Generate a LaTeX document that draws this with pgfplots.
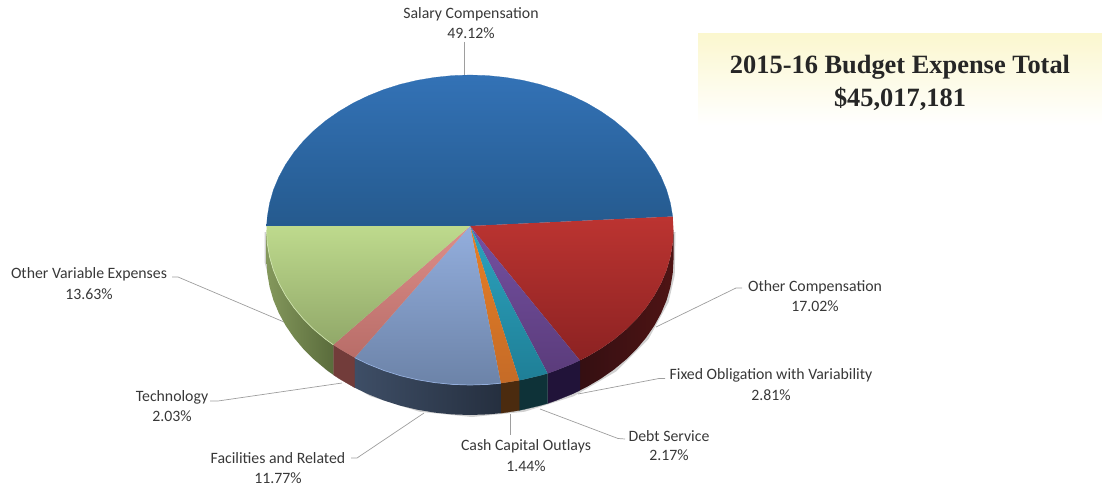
\documentclass[border=0pt]{standalone}
\usepackage{pgfplots}
\pgfplotsset{compat=1.18}
\usepackage{fontspec}
\setmainfont{Carlito}
\newfontfamily\titlefont{Liberation Serif}
\tikzset{lab/.style={font=\fontsize{15.8}{18}\selectfont,text=black!78,inner sep=0pt,anchor=center,yshift=-1.2pt},
  ttl/.style={font=\titlefont\bfseries\fontsize{26.4}{30}\selectfont,text=black!85,inner sep=0pt,yshift=-2.5pt},
  lead/.style={color=black!38,line width=0.7pt}}
\definecolor{sPur}{HTML}{211339}
\definecolor{sTea}{HTML}{0E3238}
\definecolor{sOra}{HTML}{4B2B0F}
\definecolor{sBluL}{HTML}{3E4E66}
\definecolor{sBluR}{HTML}{252F3F}
\definecolor{sPin}{HTML}{723C3A}
\definecolor{sGreL}{HTML}{84985C}
\definecolor{sGreR}{HTML}{5A6C3C}
\definecolor{sRedL}{HTML}{350F12}
\definecolor{sRedR}{HTML}{4E1414}
\definecolor{nT}{HTML}{3372B6}
\definecolor{nM}{HTML}{2B69AC}
\definecolor{nB}{HTML}{255A8E}
\definecolor{rT}{HTML}{BC3431}
\definecolor{rB}{HTML}{8C2222}
\definecolor{pT}{HTML}{7450A2}
\definecolor{pB}{HTML}{5B3C7B}
\definecolor{tT}{HTML}{2CA3BE}
\definecolor{tB}{HTML}{1F7F97}
\definecolor{oT}{HTML}{E87F25}
\definecolor{oB}{HTML}{C56B27}
\definecolor{bT}{HTML}{93AEDD}
\definecolor{bB}{HTML}{6C83A8}
\definecolor{kT}{HTML}{DD8E8A}
\definecolor{kB}{HTML}{B86D68}
\definecolor{gT}{HTML}{BEDA8D}
\definecolor{gB}{HTML}{91A869}
\definecolor{bandT}{HTML}{FBF7CF}
\begin{document}
\begin{tikzpicture}[x=1pt,y=1pt]
\path[use as bounding box] (0,0) rectangle (1102,489);
\begin{axis}[at={(0,0)},anchor=south west,width=1102pt,height=489pt,scale only axis,
  xmin=0,xmax=1102,ymin=0,ymax=489,y dir=reverse,hide axis,clip=false,
  every axis plot post/.append style={mark=none}]
% title band
\addplot[draw=none,top color=bandT,bottom color=white] coordinates {(698,34)(1102,34)(1102,125)(698,125)(698,34)};
% leader lines
\addplot[lead] coordinates {(464.3,42)(464.3,76)};
\addplot[lead] coordinates {(742,288)(736,288)(656,327)};
\addplot[lead] coordinates {(665,378.5)(659,378.5)(578,394)};
\addplot[lead] coordinates {(625,439)(618,438.5)(540,409)};
\addplot[lead] coordinates {(510.7,414)(510.7,435)};
\addplot[lead] coordinates {(351,458)(357,458)(424,413)};
\addplot[lead] coordinates {(210,401)(218,401)(342,383)};
\addplot[lead] coordinates {(172,277)(178,277)(284,322)};
% soft shadow under the pie
\addplot[draw=none,fill=black,fill opacity=0.18] coordinates {(675.5,232)(674.7,275.5)(668.6,302.1)(648.2,339.5)(615.9,371.6)(573.8,396.2)(524.7,411.7)(472,417)(419.3,411.7)(370.2,396.2)(328.1,371.6)(295.8,339.5)(275.4,302.1)(264.5,262)(264.5,232)};
% side walls
\addplot[draw=none,left color=sRedL,right color=sRedR] coordinates {(673.5,230)(672.7,243.5)(670.4,256.9)(666.6,270.1)(661.2,283)(654.4,295.5)(646.2,307.5)(636.7,318.9)(625.9,329.6)(613.9,339.6)(600.8,348.7)(586.7,357)(579.9,360.4)(579.9,390.4)(586.7,387)(600.8,378.7)(613.9,369.6)(625.9,359.6)(636.7,348.9)(646.2,337.5)(654.4,325.5)(661.2,313)(666.6,300.1)(670.4,286.9)(672.7,273.5)(673.5,260)};
\addplot[fill=sPur,draw=sPur,line width=0.2pt] coordinates {(579.9,360.4)(571.8,364.2)(556,370.5)(547.6,373.5)(547.6,403.5)(556,400.5)(571.8,394.2)(579.9,390.4)(579.9,360.4)};
\addplot[fill=sTea,draw=sTea,line width=0.2pt] coordinates {(547.6,373.5)(539.6,375.7)(522.7,379.7)(519.2,380.4)(519.2,410.4)(522.7,409.7)(539.6,405.7)(547.6,403.5)(547.6,373.5)};
\addplot[fill=sOra,draw=sOra,line width=0.2pt] coordinates {(519.2,380.4)(505.3,382.6)(500.8,383.2)(500.8,413.2)(505.3,412.6)(519.2,410.4)(519.2,380.4)};
\addplot[draw=none,left color=sBluL,right color=sBluR] coordinates {(500.8,383.2)(487.7,384.4)(470,385)(452.3,384.4)(434.7,382.6)(417.3,379.7)(400.4,375.7)(384,370.5)(368.2,364.2)(354.7,357.7)(354.7,387.7)(368.2,394.2)(384,400.5)(400.4,405.7)(417.3,409.7)(434.7,412.6)(452.3,414.4)(470,415)(487.7,414.4)(500.8,413.2)};
\addplot[fill=sPin,draw=sPin,line width=0.2pt] coordinates {(354.7,357.7)(339.2,348.7)(333.3,344.8)(333.3,374.8)(339.2,378.7)(354.7,387.7)(354.7,357.7)};
\addplot[draw=none,left color=sGreL,right color=sGreR] coordinates {(333.3,344.8)(326.1,339.6)(314.1,329.6)(303.3,318.9)(293.8,307.5)(285.6,295.5)(278.8,283)(273.4,270.1)(269.6,256.9)(267.3,243.5)(266.5,230)(266.5,260)(267.3,273.5)(269.6,286.9)(273.4,300.1)(278.8,313)(285.6,325.5)(293.8,337.5)(303.3,348.9)(314.1,359.6)(326.1,369.6)(333.3,374.8)};
% top faces
\addplot[draw=nM,line width=0.2pt,top color=nT,middle color=nM,bottom color=nB] coordinates {(470,226)(266.6,226)(267.3,216.5)(269.6,203.1)(273.4,189.9)(278.8,177)(285.6,164.5)(293.8,152.5)(303.3,141.1)(314.1,130.4)(326.1,120.4)(339.2,111.3)(353.3,103)(368.2,95.8)(384,89.5)(400.4,84.3)(417.3,80.3)(434.7,77.4)(452.3,75.6)(470,75)(487.7,75.6)(505.3,77.4)(522.7,80.3)(539.6,84.3)(556,89.5)(571.8,95.8)(586.7,103)(600.8,111.3)(613.9,120.4)(625.9,130.4)(636.7,141.1)(646.2,152.5)(654.4,164.5)(661.2,177)(666.6,189.9)(670.4,203.1)(672.7,216.5)(470,226)};
\addplot[draw=none,top color=rT,bottom color=rB] coordinates {(470,226)(672.7,216.5)(673.5,230)(672.7,243.5)(670.4,256.9)(666.6,270.1)(661.2,283)(654.4,295.5)(646.2,307.5)(636.7,318.9)(625.9,329.6)(613.9,339.6)(600.8,348.7)(586.7,357)(579.9,360.4)(470,226)};
\addplot[draw=none,top color=pT,bottom color=pB] coordinates {(470,226)(579.9,360.4)(571.8,364.2)(556,370.5)(547.6,373.5)(470,226)};
\addplot[draw=none,top color=tT,bottom color=tB] coordinates {(470,226)(547.6,373.5)(539.6,375.7)(522.7,379.7)(519.2,380.4)(470,226)};
\addplot[draw=none,top color=oT,bottom color=oB] coordinates {(470,226)(519.2,380.4)(505.3,382.6)(500.8,383.2)(470,226)};
\addplot[draw=none,top color=bT,bottom color=bB] coordinates {(470,226)(500.8,383.2)(487.7,384.4)(470,385)(452.3,384.4)(434.7,382.6)(417.3,379.7)(400.4,375.7)(384,370.5)(368.2,364.2)(354.7,357.7)(470,226)};
\addplot[draw=none,top color=kT,bottom color=kB] coordinates {(470,226)(354.7,357.7)(339.2,348.7)(333.3,344.8)(470,226)};
\addplot[draw=none,top color=gT,bottom color=gB] coordinates {(470,226)(333.3,344.8)(326.1,339.6)(314.1,329.6)(303.3,318.9)(293.8,307.5)(285.6,295.5)(278.8,283)(273.4,270.1)(269.6,256.9)(267.3,243.5)(266.5,230)(266.6,226)(470,226)};
% light rim on the near edge
\addplot[color=gT!70!white,line width=0.7pt] coordinates {(333.3,344.8)(326.1,339.6)(314.1,329.6)(303.3,318.9)(293.8,307.5)(285.6,295.5)(278.8,283)(273.4,270.1)(269.6,256.9)(267.3,243.5)(266.5,230)};
\addplot[color=bT,line width=0.7pt] coordinates {(500.8,383.2)(487.7,384.4)(470,385)(452.3,384.4)(434.7,382.6)(417.3,379.7)(400.4,375.7)(384,370.5)(368.2,364.2)(354.7,357.7)};
% labels
\node[lab] at (axis cs:471,13) {Salary Compensation};
\node[lab] at (axis cs:471,32) {49.12\%};
\node[lab] at (axis cs:815,286) {Other Compensation};
\node[lab] at (axis cs:815,305) {17.02\%};
\node[lab] at (axis cs:771,374) {Fixed Obligation with Variability};
\node[lab] at (axis cs:771,394) {2.81\%};
\node[lab] at (axis cs:669,435) {Debt Service};
\node[lab] at (axis cs:669,454) {2.17\%};
\node[lab] at (axis cs:526,445) {Cash Capital Outlays};
\node[lab] at (axis cs:526,465) {1.44\%};
\node[lab] at (axis cs:278,457) {Facilities and Related};
\node[lab] at (axis cs:278,477) {11.77\%};
\node[lab] at (axis cs:172,396) {Technology};
\node[lab] at (axis cs:172,415) {2.03\%};
\node[lab] at (axis cs:89,273) {Other Variable Expenses};
\node[lab] at (axis cs:89,293) {13.63\%};
\node[ttl] at (axis cs:900,65) {2015-16 Budget Expense Total};
\node[ttl] at (axis cs:900,96) {\$45,017,181};
\end{axis}
\end{tikzpicture}
\end{document}
